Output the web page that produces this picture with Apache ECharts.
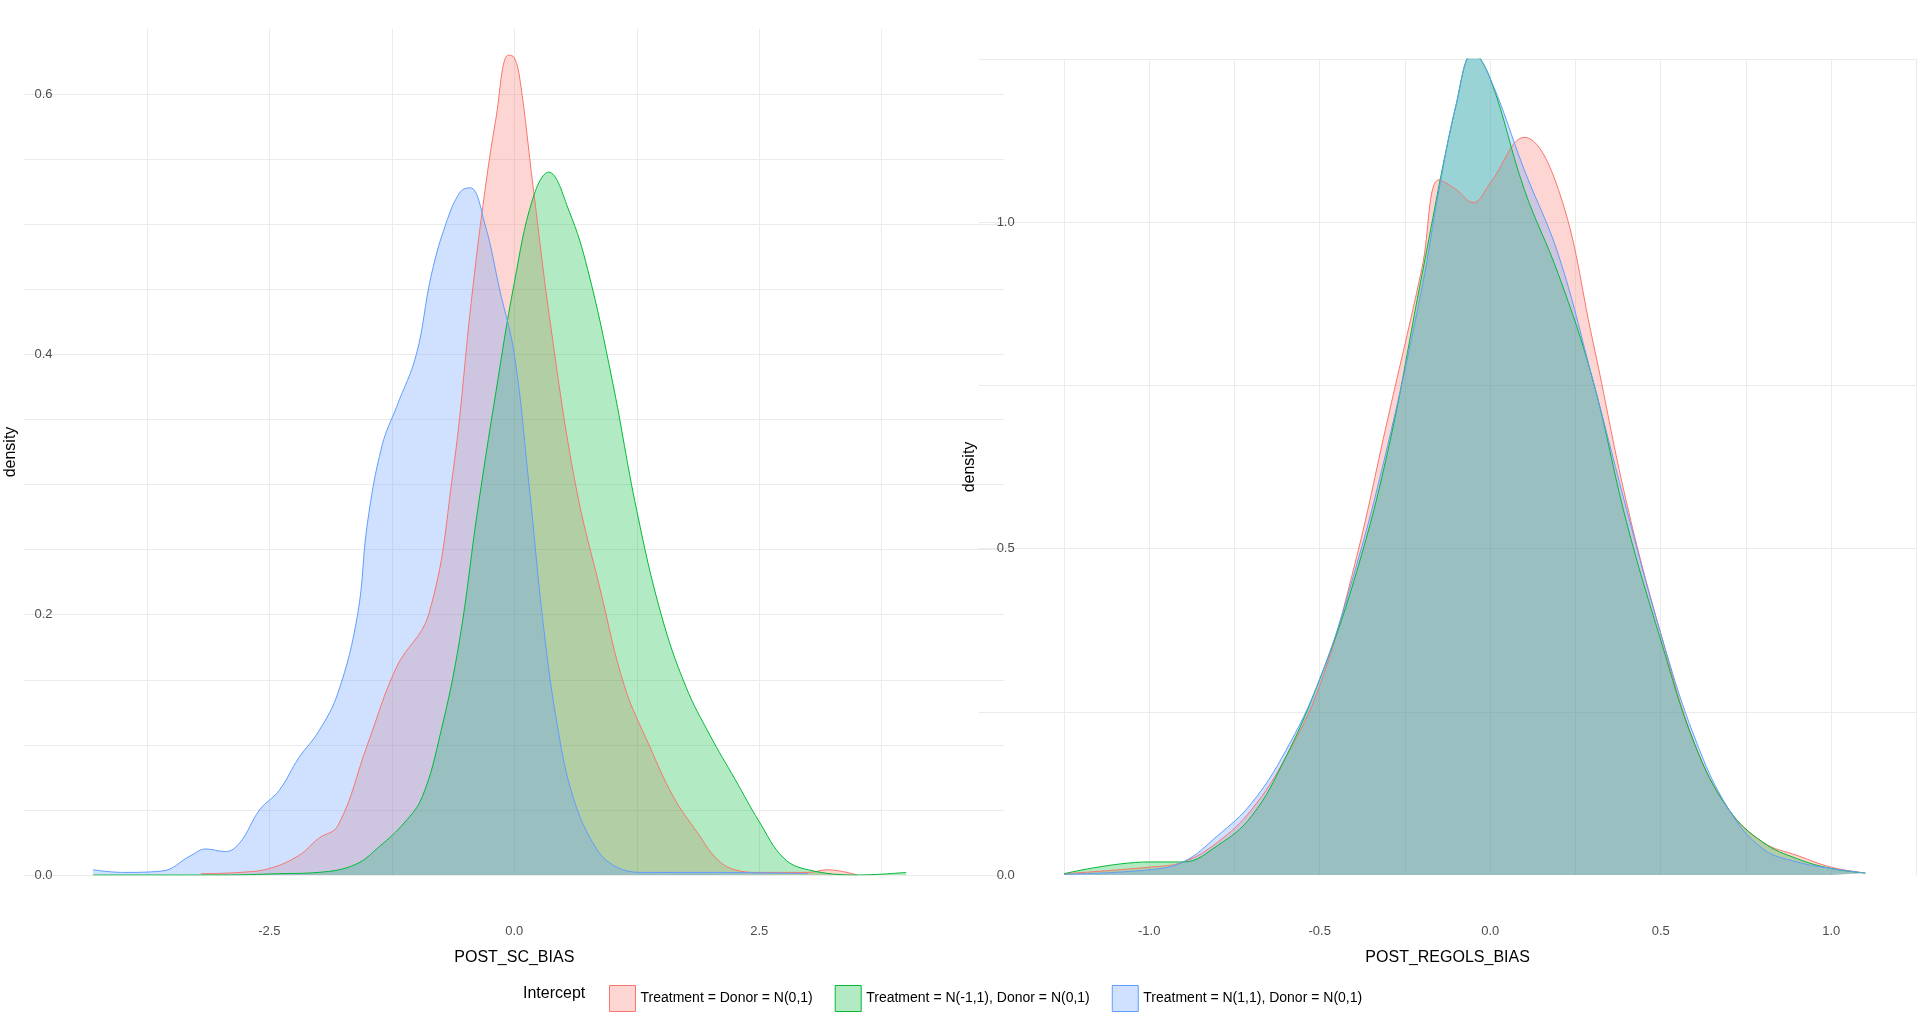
<!DOCTYPE html>
<html>
<head>
<meta charset="utf-8">
<script src="https://cdn.jsdelivr.net/npm/echarts@6/dist/echarts.min.js"></script>
<style>html,body{margin:0;padding:0;background:#fff}#chart{width:1920px;height:1017px}</style>
</head>
<body>
<div id="chart"></div>
<script>
const NAMES = ['Treatment = Donor = N(0,1)', 'Treatment = N(-1,1), Donor = N(0,1)', 'Treatment = N(1,1), Donor = N(0,1)'];
const COLORS = ['#F8766D', '#00BA38', '#619CFF'];

// left panel: POST_SC_BIAS
const scRed = [[-3.2,0.001],[-2.8,0.002],[-2.5,0.005],[-2.2,0.015],[-2.0,0.028],[-1.8,0.038],[-1.5,0.1],[-1.2,0.16],[-0.875,0.2],[-0.625,0.31],[-0.44,0.44],[-0.31,0.52],[-0.19,0.58],[-0.06,0.63],[0.0,0.628],[0.06,0.61],[0.19,0.53],[0.375,0.42],[0.625,0.3],[0.875,0.22],[1.125,0.145],[1.375,0.1],[1.625,0.06],[1.875,0.032],[2.06,0.013],[2.25,0.004],[2.5,0.002],[3.0,0.002],[3.2,0.004],[3.5,0.0]];
const scGreen = [[-4.3,0.0],[-3.0,0.0],[-2.4,0.001],[-2.0,0.002],[-1.625,0.008],[-1.375,0.022],[-1.125,0.04],[-0.94,0.06],[-0.75,0.11],[-0.56,0.18],[-0.375,0.28],[-0.19,0.37],[0.0,0.455],[0.19,0.52],[0.35,0.54],[0.56,0.51],[0.75,0.465],[1.0,0.38],[1.25,0.28],[1.5,0.2],[1.75,0.145],[2.0,0.107],[2.25,0.074],[2.5,0.041],[2.75,0.013],[3.0,0.004],[3.5,0.0],[4.0,0.002]];
const scBlue = [[-4.3,0.004],[-4.0,0.002],[-3.6,0.003],[-3.3,0.015],[-3.15,0.02],[-2.95,0.018],[-2.8,0.025],[-2.6,0.05],[-2.4,0.065],[-2.2,0.09],[-2.0,0.11],[-1.8,0.14],[-1.6,0.2],[-1.5,0.27],[-1.35,0.33],[-1.2,0.36],[-1.0,0.4],[-0.85,0.46],[-0.7,0.5],[-0.55,0.525],[-0.45,0.528],[-0.3,0.5],[-0.15,0.45],[0.0,0.4],[0.15,0.3],[0.3,0.19],[0.45,0.11],[0.6,0.06],[0.8,0.025],[1.0,0.008],[1.3,0.002],[2.0,0.002],[3.0,0.001]];

// right panel: POST_REGOLS_BIAS
const regRed = [[-1.25,0.002],[-1.0,0.012],[-0.9,0.02],[-0.8,0.05],[-0.7,0.1],[-0.6,0.18],[-0.5,0.29],[-0.4,0.47],[-0.3,0.7],[-0.2,0.93],[-0.15,1.065],[-0.1,1.05],[-0.05,1.03],[0.0,1.06],[0.1,1.13],[0.2,1.05],[0.3,0.82],[0.4,0.57],[0.5,0.37],[0.6,0.2],[0.7,0.1],[0.8,0.05],[0.9,0.03],[1.0,0.012],[1.1,0.003]];
const regGreen = [[-1.25,0.002],[-1.0,0.02],[-0.9,0.02],[-0.8,0.045],[-0.7,0.09],[-0.6,0.18],[-0.5,0.3],[-0.4,0.45],[-0.3,0.65],[-0.2,0.92],[-0.1,1.18],[-0.05,1.26],[0.0,1.22],[0.1,1.05],[0.2,0.92],[0.3,0.76],[0.4,0.54],[0.5,0.36],[0.6,0.2],[0.7,0.1],[0.8,0.05],[0.9,0.025],[1.0,0.01],[1.1,0.003]];
const regBlue = [[-1.25,0.001],[-1.0,0.008],[-0.9,0.02],[-0.8,0.06],[-0.7,0.11],[-0.6,0.19],[-0.5,0.3],[-0.4,0.46],[-0.3,0.66],[-0.2,0.9],[-0.15,1.05],[-0.1,1.18],[-0.05,1.26],[0.0,1.22],[0.1,1.08],[0.2,0.95],[0.3,0.76],[0.4,0.56],[0.5,0.37],[0.6,0.21],[0.7,0.1],[0.8,0.04],[0.9,0.02],[1.0,0.01],[1.1,0.003]];

const leftXLabels = [-2.5, 0, 2.5];
const rightXLabels = [-1, -0.5, 0, 0.5, 1];

const chart = echarts.init(document.getElementById('chart'));
const GRID = '#ebebeb';
const T = 'rgba(0,0,0,0)';
const font = 'Liberation Sans, Arial, sans-serif';

function fmt(v) { return v.toFixed(1); }

const xAxisBase = {
    type: 'value',
    axisLine: { show: false },
    axisTick: { show: false },
    nameLocation: 'middle',
    nameTextStyle: { color: '#000', fontSize: 16, fontFamily: font },
};

const series = [];
[[scRed, scGreen, scBlue], [regRed, regGreen, regBlue]].forEach((set, g) => {
    set.forEach((d, i) => {
        series.push({
            name: NAMES[i], type: 'line', xAxisIndex: g, yAxisIndex: g,
            data: d, smooth: 0.4, symbol: 'none',
            lineStyle: { width: 1, color: COLORS[i] },
            itemStyle: { color: COLORS[i] },
            areaStyle: { color: COLORS[i], opacity: 0.3 },
        });
    });
});

const option = {
    animation: false,
    textStyle: { fontFamily: font },
    grid: [
        { left: 24.5, width: 979.6, top: 29, height: 846, outerBoundsMode: 'none', containLabel: false },
        { left: 978.7, width: 937.8, top: 59, height: 816, outerBoundsMode: 'none', containLabel: false },
    ],
    xAxis: [
        Object.assign({}, xAxisBase, {
            gridIndex: 0, min: -5, max: 5, interval: 1.25,
            name: 'POST_SC_BIAS', nameGap: 75,
            splitLine: { lineStyle: { color: [T, GRID, GRID, GRID, GRID, GRID, GRID, GRID, T] } },
            axisLabel: { margin: 50, color: '#4d4d4d', fontSize: 13,
                formatter: v => leftXLabels.includes(v) ? fmt(v) : '' },
        }),
        Object.assign({}, xAxisBase, {
            gridIndex: 1, min: -1.5, max: 1.25, interval: 0.25,
            name: 'POST_REGOLS_BIAS', nameGap: 75,
            splitLine: { lineStyle: { color: [T, GRID, GRID, GRID, GRID, GRID, GRID, GRID, GRID, GRID, GRID, GRID] } },
            axisLabel: { margin: 50, color: '#4d4d4d', fontSize: 13,
                formatter: v => rightXLabels.includes(v) ? fmt(v) : '' },
        }),
    ],
    yAxis: [
        { type: 'value', gridIndex: 0, min: 0, max: 0.65, interval: 0.05,
          name: 'density', nameLocation: 'middle', nameGap: 6,
          nameTextStyle: { color: '#000', fontSize: 16 },
          axisLine: { show: false }, axisTick: { show: false },
          splitLine: { lineStyle: { color: [GRID, GRID, GRID, GRID, GRID, GRID, GRID, GRID, GRID, GRID, GRID, GRID, GRID, T] } },
          axisLabel: { margin: -28, color: '#4d4d4d', fontSize: 13,
              formatter: v => (Math.round(v * 100) % 20 === 0) ? fmt(v) : '' } },
        { type: 'value', gridIndex: 1, min: 0, max: 1.25, interval: 0.25,
          name: 'density', nameLocation: 'middle', nameGap: 1,
          nameTextStyle: { color: '#000', fontSize: 16 },
          axisLine: { show: false }, axisTick: { show: false },
          splitLine: { lineStyle: { color: [T, GRID, GRID, GRID, GRID, GRID] } },
          axisLabel: { margin: -36, color: '#4d4d4d', fontSize: 13,
              formatter: v => (Math.round(v * 100) % 50 === 0) ? fmt(v) : '' } },
    ],
    legend: {
        left: 604, top: 980, itemWidth: 26, itemHeight: 26, itemGap: 22,
        icon: 'rect',
        textStyle: { color: '#000', fontSize: 14 },
        data: NAMES.map((n, i) => ({
            name: n,
            itemStyle: { color: echarts.color.modifyAlpha(COLORS[i], 0.3), borderColor: COLORS[i], borderWidth: 1 },
        })),
    },
    graphic: [{ type: 'text', left: 523, top: 986, style: { text: 'Intercept', fontSize: 16, fill: '#000', fontFamily: font } }],
    series: series,
};
chart.setOption(option);
</script>
</body>
</html>
